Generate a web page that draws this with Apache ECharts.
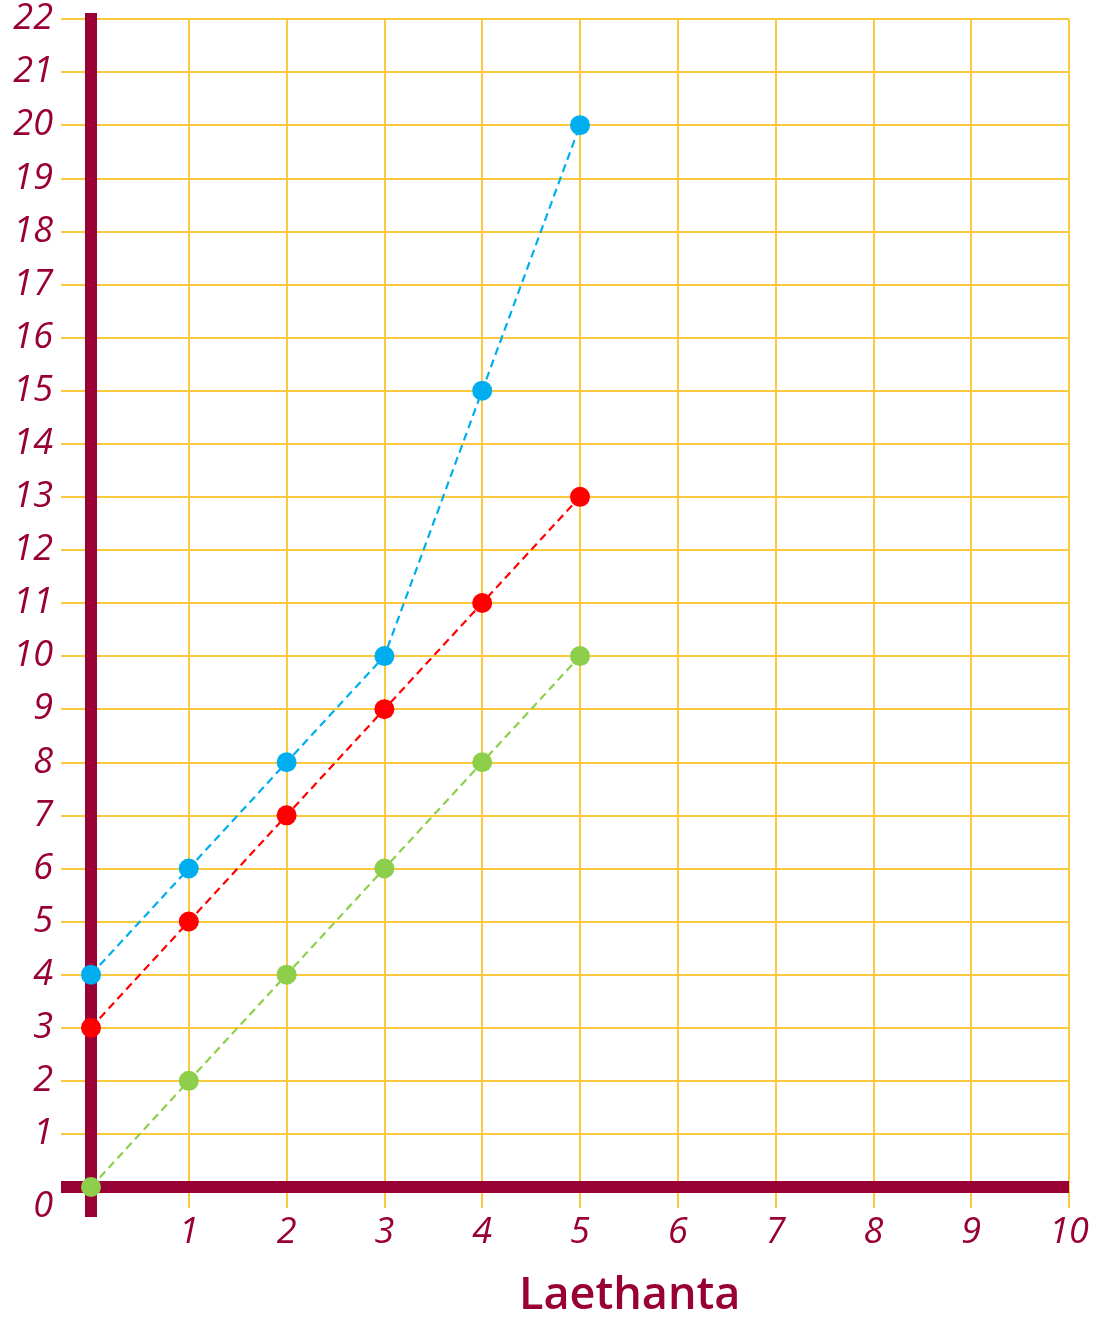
<!DOCTYPE html>
<html>
<head>
<meta charset="utf-8">
<script src="https://cdn.jsdelivr.net/npm/echarts@6/dist/echarts.min.js"></script>
<style>
  html, body { margin: 0; padding: 0; background: #fff; }
  #main { width: 1103px; height: 1321px; }
</style>
</head>
<body>
<div id="main"></div>
<script>
var xValues = [0, 1, 2, 3, 4, 5];
var blueValues = [4, 6, 8, 10, 15, 20];
var redValues = [3, 5, 7, 9, 11, 13];
var greenValues = [0, 2, 4, 6, 8, 10];
var xTitle = 'Laethanta';

var axisRed = '#990033';
var gridYellow = '#fbc93d';
var font = 'Open Sans';

function pairs(ys) {
  return xValues.map(function (x, i) { return [x, ys[i]]; });
}

function lineSeries(ys, color) {
  return {
    type: 'line',
    data: pairs(ys),
    symbol: 'circle',
    symbolSize: 20,
    z: 5,
    itemStyle: { color: color },
    lineStyle: { color: color, width: 2.2, type: [8, 5] }
  };
}

var chart = echarts.init(document.getElementById('main'));

var option = {
  animation: false,
  title: {
    text: xTitle,
    left: 514,
    top: 1269,
    textStyle: { fontFamily: font, fontSize: 45, fontWeight: 600, color: axisRed }
  },
  grid: { left: 91, right: 34, top: 19, bottom: 134 },
  xAxis: [
    {
      type: 'value', min: 0, max: 10, interval: 1,
      axisLine: { show: false },
      axisTick: { show: true, length: 21, lineStyle: { color: gridYellow, width: 2 } },
      splitLine: { show: true, lineStyle: { color: gridYellow, width: 2 } },
      axisLabel: {
        margin: 28, fontFamily: font, fontStyle: 'italic', fontSize: 36, color: axisRed,
        formatter: function (v) { return v === 0 ? '' : v; }
      }
    },
    {
      type: 'value', min: 0, max: 10, position: 'bottom', z: 3,
      axisLine: { show: true, onZero: false, lineStyle: { color: axisRed, width: 12, cap: 'butt' } },
      axisTick: { show: true, customValues: [0], length: 30, lineStyle: { color: axisRed, width: 12, cap: 'butt' } },
      splitLine: { show: false },
      axisLabel: { show: false }
    }
  ],
  yAxis: [
    {
      type: 'value', min: 0, max: 22, interval: 1,
      axisLine: { show: false },
      axisTick: { show: true, length: 30, lineStyle: { color: gridYellow, width: 2 } },
      splitLine: { show: true, lineStyle: { color: gridYellow, width: 2 } },
      axisLabel: {
        margin: 38, fontFamily: font, fontStyle: 'italic', fontSize: 36, color: axisRed,
        formatter: function (v) { return v === 0 ? '{z|0}' : String(v); },
        rich: { z: { fontFamily: font, fontStyle: 'italic', fontSize: 36, color: axisRed, padding: [40, 0, 0, 0] } }
      }
    },
    {
      type: 'value', min: 0, max: 22, position: 'left', z: 3,
      axisLine: { show: true, onZero: false, lineStyle: { color: axisRed, width: 12, cap: 'square' } },
      axisTick: { show: true, customValues: [0], length: 30, lineStyle: { color: axisRed, width: 12, cap: 'butt' } },
      splitLine: { show: false },
      axisLabel: { show: false }
    }
  ],
  series: [
    lineSeries(blueValues, '#00aeef'),
    lineSeries(redValues, '#ff0000'),
    lineSeries(greenValues, '#8dcf4a')
  ]
};

chart.setOption(option);
</script>
</body>
</html>
